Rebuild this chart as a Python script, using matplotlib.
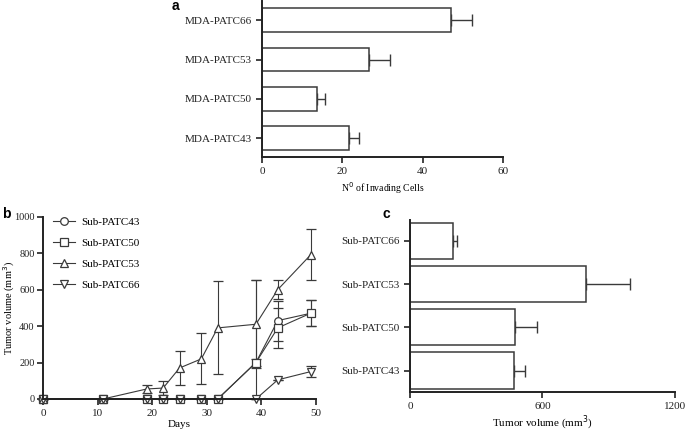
import matplotlib.pyplot as plt

# Panel a: invasion assay
inv_lines = ['MDA-PATC43', 'MDA-PATC50', 'MDA-PATC53', 'MDA-PATC66']
inv_cells = [21.7, 13.6, 26.6, 47.0]
inv_err = [2.4, 2.2, 5.3, 5.4]

# Panel b: growth curves (lower / upper error)
days = [0, 11, 19, 22, 25, 29, 32, 39, 43, 49]
vol43 = [0, 0, 0, 0, 0, 0, 0, 200, 430, 470]
lo43 = [0, 0, 0, 0, 0, 0, 0, 200, 110, 72]
hi43 = [0, 0, 0, 0, 0, 0, 0, 450, 110, 72]
vol50 = [0, 0, 0, 0, 0, 0, 0, 200, 390, 470]
err50 = [0, 0, 0, 0, 0, 0, 0, 20, 110, 72]
vol53 = [0, 0, 55, 60, 170, 220, 390, 410, 600, 790]
err53 = [0, 0, 20, 40, 92, 140, 255, 240, 50, 140]
vol66 = [0, 0, 0, 0, 0, 0, 0, 0, 105, 150]
err66 = [0, 0, 0, 0, 0, 0, 0, 0, 0, 30]

# Panel c: final tumor volume
sub_lines = ['Sub-PATC43', 'Sub-PATC50', 'Sub-PATC53', 'Sub-PATC66']
final_vol = [472, 475, 796, 193]
final_err = [50, 102, 200, 18]

plt.rcParams['font.family'] = ['Liberation Serif']
plt.rcParams['font.size'] = 8
ec = '#3a3a3a'


def style(ax):
    for s in ['top', 'right']:
        ax.spines[s].set_visible(False)
    for s in ['left', 'bottom']:
        ax.spines[s].set_linewidth(1.4)
        ax.spines[s].set_color('#222222')
    ax.tick_params(direction='out', length=4, width=1.2, colors='#222222', labelsize=8)


def hbar(ax, labels, vals, errs, h):
    pos = list(range(len(vals)))
    ax.barh(pos, vals, height=h, color='white', edgecolor=ec, linewidth=1.1, zorder=2)
    ax.errorbar(vals, pos, xerr=[[0] * len(errs), errs], fmt='none',
                ecolor=ec, elinewidth=1.0, capsize=4, capthick=1.0, zorder=1)
    ax.set_yticks(pos)
    ax.set_yticklabels(labels)


fig = plt.figure(figsize=(6.85, 4.32), dpi=100)

# a
axa = fig.add_axes([0.3825, 0.6366, 0.3518, 0.362])
hbar(axa, inv_lines, inv_cells, inv_err, 0.6)
axa.set_xlim(0, 60)
axa.set_ylim(-0.48, 3.5)
axa.set_xticks([0, 20, 40, 60])
axa.set_xlabel('N$^0$ of Invading Cells', fontsize=7, labelpad=3)
style(axa)

# b
axb = fig.add_axes([0.0628, 0.0764, 0.3985, 0.422])
series = [(vol43, [lo43, hi43], 'o', 'Sub-PATC43'), (vol50, err50, 's', 'Sub-PATC50'),
          (vol53, err53, '^', 'Sub-PATC53'), (vol66, err66, 'v', 'Sub-PATC66')]
for v, e, m, lab in series:
    axb.errorbar(days, v, yerr=e, color=ec, marker=m, markersize=5.5,
                 markerfacecolor='white', markeredgecolor=ec, markeredgewidth=0.9,
                 linewidth=0.8, elinewidth=0.8, capsize=3.5, capthick=0.8,
                 label=lab, clip_on=False)
axb.set_xlim(0, 50)
axb.set_ylim(0, 1000)
axb.set_xticks([0, 10, 20, 30, 40, 50])
axb.set_yticks([0, 200, 400, 600, 800, 1000])
axb.set_xlabel('Days', fontsize=8, labelpad=1)
style(axb)
axb.tick_params(axis='y', labelsize=7.5, pad=2)
axb.set_ylabel('Tumor volume (mm$^3$)', fontsize=7.5)
axb.yaxis.set_label_coords(-0.095, 0.5)
h, l = axb.get_legend_handles_labels()
h = [x[0] for x in h]
axb.legend(h, l, loc='upper left', bbox_to_anchor=(0.0, 1.05), frameon=False,
           fontsize=8, handlelength=2.0, labelspacing=1.0, handletextpad=0.5)

# c
axc = fig.add_axes([0.5985, 0.0933, 0.3869, 0.3974])
hbar(axc, sub_lines, final_vol, final_err, 0.84)
axc.set_xlim(0, 1200)
axc.set_ylim(-0.49, 3.48)
axc.set_xticks([0, 600, 1200])
axc.set_xlabel('Tumor volume (mm$^3$)', fontsize=8, labelpad=2)
style(axc)

for x, y, t in [(0.251, 0.985, 'a'), (0.003, 0.505, 'b'), (0.559, 0.505, 'c')]:
    fig.text(x, y, t, fontsize=10, fontweight='bold', family='Liberation Sans', va='center')

fig.savefig('out.png', dpi=100)
